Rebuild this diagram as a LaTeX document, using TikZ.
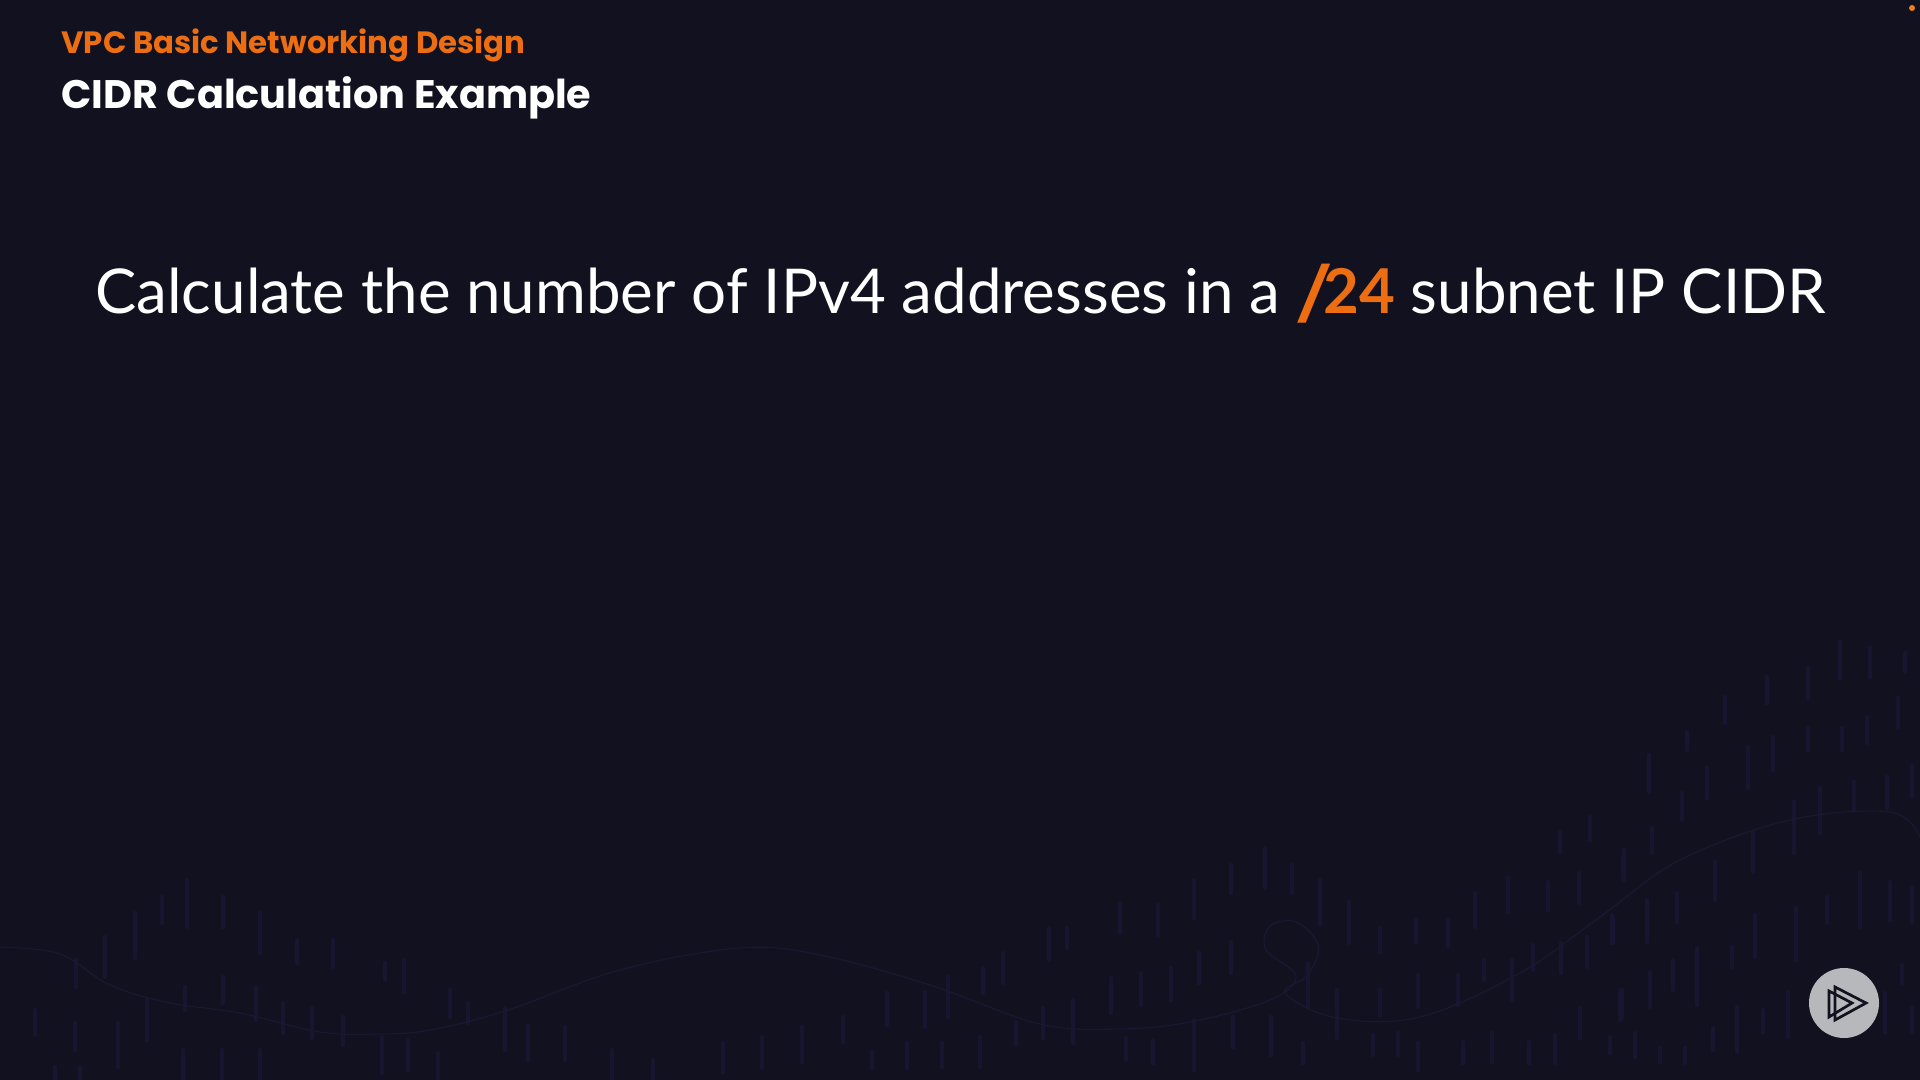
\documentclass[tikz,border=0pt]{standalone}
\usepackage{fontspec}
\setmainfont{Lato}
\newfontfamily\headfont{Poppins}
\definecolor{slidebg}{HTML}{12111F}
\definecolor{rainc}{HTML}{171530}
\definecolor{wavec}{HTML}{1A1730}
\definecolor{accent}{HTML}{EC6D12}
\definecolor{badge}{HTML}{B6B8BB}
\tikzset{
    heading/.style={anchor=base west, inner sep=0pt},
    rain/.style={rainc, line width=2.2pt, line cap=round},
    playtri/.style={slidebg, line width=1.35pt, miter limit=8}
}

\begin{document}
\begin{tikzpicture}[x=0.5pt,y=-0.5pt]
    \useasboundingbox (0,0) rectangle (1920,1080);
    \fill[slidebg] (0,0) rectangle (1920,1080);
    % faint background strokes
    \foreach \x/\a/\b in {187/880/927,162/897/923,223/897/927,260/913/953,135/913/958,105/937/977,76/960/987,
        297/940/963,333/940/967,385/963/980,404/960/992,223/977/1003,185/987/1010,256/987/1020,283/1003/1033,
        312/1008/1038,343/1017/1045,147/1000/1040,118/1023/1067,75/1023/1050,35/1010/1035,450/990/1017,
        468/1003/1023,505/1008/1050,382/1037/1073,408/1040/1070,438/1053/1080,183/1050/1080,222/1050/1080,
        260/1050/1080,80/1067/1080,55/1067/1080,1003/953/983,983/968/993,948/977/1017,925/992/1027,887/993/1025,
        843/1017/1042,802/1027/1062,762/1037/1068,723/1043/1072,565/1027/1060,528/1025/1060,612/1050/1080,
        653/1060/1080,872/1052/1068,907/1043/1068,942/1043/1067,980/1037/1067,1265/848/888,1231/865/893,
        1292/865/893,1194/880/918,1320/880/925,1349/902/943,1120/903/933,1158/905/935,1049/928/960,1067/928/948,
        1231/942/973,1199/953/983,1380/928/952,1416/920/943,1448/920/947,1475/893/927,1508/878/912,1548/882/910,
        1579/873/903,1560/832/852,1590/817/840,1624/850/880,1111/978/1013,1141/973/1005,1171/968/1000,
        1308/963/1007,1073/1000/1043,1043/1008/1038,1016/1022/1045,1337/990/1038,1380/990/1015,1418/975/1007,
        1458/975/1005,1484/960/980,1512/960/1000,1533/945/970,1561/943/973,1587/937/967,1612/915/943,
        1194/1020/1070,1233/1017/1047,1271/1017/1055,1303/1043/1063,1126/1038/1060,1153/1040/1063,1373/1035/1055,
        1398/1033/1055,1418/1043/1070,1463/1042/1063,1492/1033/1062,1529/1042/1063,1555/1035/1063,1580/1008/1038,
        1610/1037/1053,1635/1033/1057,1620/990/1020,1840/642/678,1870/648/677,1905/653/672,1808/668/698,
        1767/677/703,1725/697/723,1898/698/727,1867/717/743,1808/728/750,1842/728/750,1687/732/750,1773/737/770,
        1748/747/788,1649/755/792,1707/768/798,1912/765/797,1887/777/808,1854/782/810,1820/788/833,1682/793/820,
        1794/802/853,1652/828/853,1753/832/872,1623/857/878,1715/862/900,1860/873/927,1890/882/920,1912/887/922,
        1827/897/923,1677/893/922,1647/900/942,1613/917/943,1755/915/957,1796/908/960,1732/947/967,1697/948/1005,
        1673/960/990,1650/972/1007,1622/990/1018,1902/965/983,1788/992/1037,1763/1010/1032,1737/1007/1052,
        1713/1028/1050,1660/1048/1062,1685/1048/1063,1885/993/1032,1912/1007/1032}
        \draw[rain] (\x,\a) -- (\x,\b);
    % wave with its loop
    \draw[wavec, line width=0.6pt] plot[smooth, tension=0.6] coordinates {(0,947) (60,954) (110,985) (170,1003)
        (240,1013) (320,1032) (380,1034) (430,1030) (505,1011) (620,970) (740,948) (820,955) (930,985)
        (1040,1024) (1120,1029) (1190,1022) (1270,1000) (1296,976) (1266,950) (1270,926) (1296,922) (1318,945)
        (1308,975) (1285,993) (1337,1018) (1420,1017) (1520,973) (1600,917) (1680,860) (1790,820) (1890,812) (1920,837)};
    % texts
    \node[heading, text=accent, font=\headfont\bfseries\fontsize{15.4}{18}\selectfont] (topic) at (61,54) {VPC Basic Networking Design};
    \node[heading, text=white, font=\headfont\bfseries\fontsize{19.9}{24}\selectfont] (subtopic) at (61,109) {CIDR Calculation Example};
    \node[anchor=base west, inner sep=0pt, text=white, font=\fontsize{30.9}{37}\selectfont] (question) at (95,313.5)
        {Calculate the number of IPv4 addresses in a \textcolor{accent}{\kern3pt{\headfont\bfseries\itshape\fontsize{26}{30}\selectfont/}\kern-1pt\textbf{24}} subnet IP CIDR};
    % player badge
    \node[circle, fill=badge, minimum size=35pt, inner sep=0pt] (badgedisc) at (1844,1003) {};
    \draw[playtri] (1835,987) -- (1835,1020) -- (1866,1003) -- cycle;
    \draw[playtri] (1829,991) -- (1829,1017) -- (1852,1003) -- cycle;
    \fill[orange!70!brown] (1912,8) circle (1.5pt);
\end{tikzpicture}
\end{document}
